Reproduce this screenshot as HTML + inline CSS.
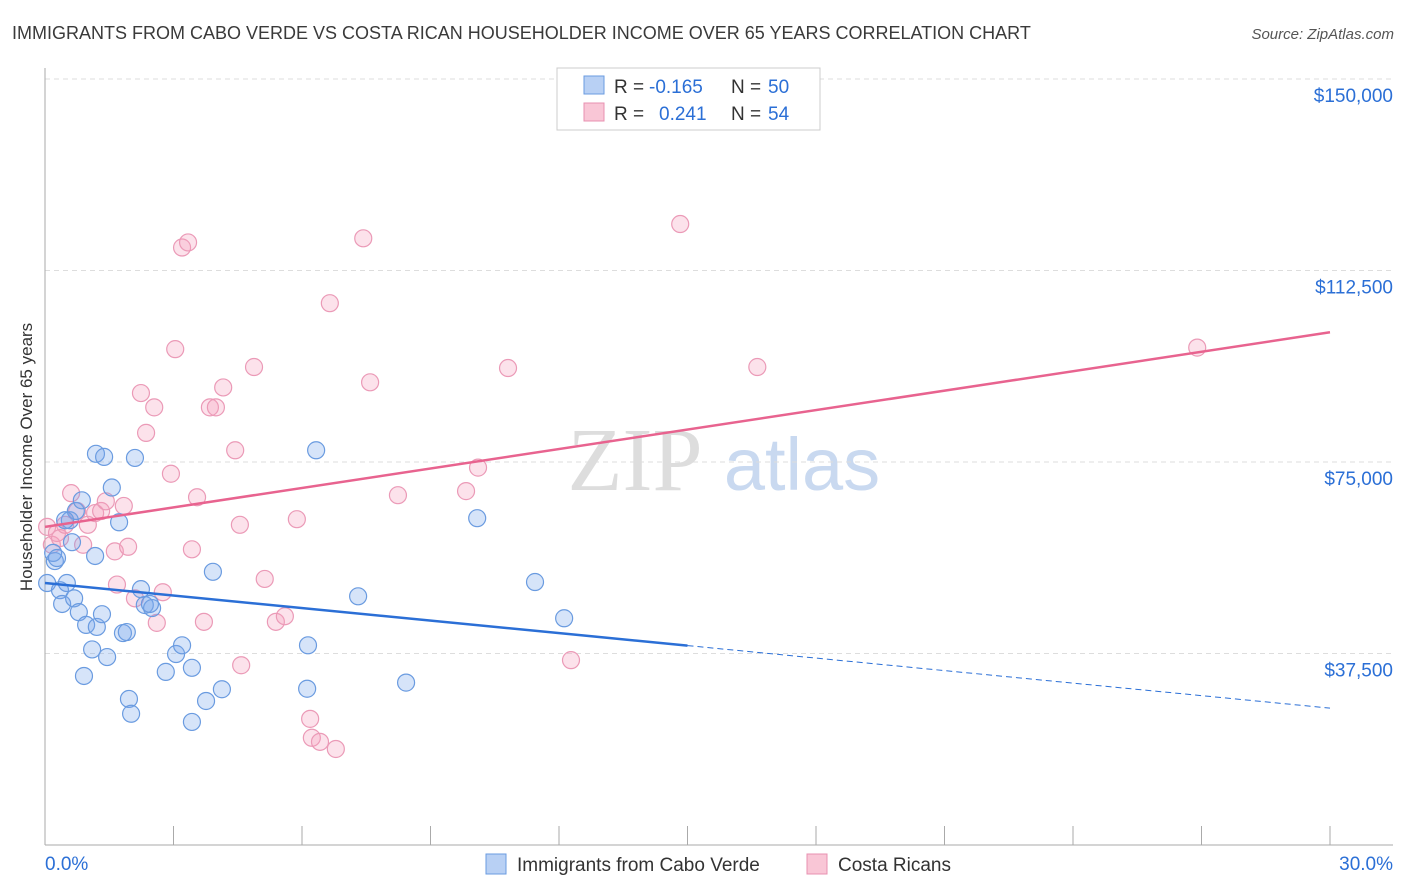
<!DOCTYPE html>
<html><head><meta charset="utf-8"><style>
body{margin:0;background:#fff;font-family:"Liberation Sans",sans-serif;}
svg{display:block}
</style></head><body>
<svg id="chart" width="1406" height="892">
<text x="12" y="39" font-size="18" fill="#3a3a3a">IMMIGRANTS FROM CABO VERDE VS COSTA RICAN HOUSEHOLDER INCOME OVER 65 YEARS CORRELATION CHART</text>
<text x="1394" y="39" font-size="15" fill="#555" text-anchor="end" font-style="italic">Source: ZipAtlas.com</text>
<text x="32" y="457" font-size="17" fill="#333" text-anchor="middle" transform="rotate(-90 32 457)">Householder Income Over 65 years</text>
<g><text x="635" y="490" font-size="90" font-family="Liberation Serif,serif" fill="#ddd" text-anchor="middle">ZIP</text><text x="802" y="490" font-size="74" fill="#c9d9f0" text-anchor="middle">atlas</text></g>
<g id="grid"></g><g id="axes"></g><g id="pts"></g><g id="lines"></g>
<g>
<rect x="557" y="68" width="263" height="62" fill="#fff" stroke="#ccc"/>
<rect x="584" y="76" width="20" height="18" fill="#b8d0f4" stroke="#6a9be0"/>
<rect x="584" y="103" width="20" height="18" fill="#f9c6d6" stroke="#e890b0"/>
<text x="614" y="93" font-size="19" fill="#333">R =</text>
<text x="649" y="93" font-size="19" fill="#2b6fd6">-0.165</text>
<text x="731" y="93" font-size="19" fill="#333">N =</text>
<text x="768" y="93" font-size="19" fill="#2b6fd6">50</text>
<text x="614" y="120" font-size="19" fill="#333">R =</text>
<text x="659" y="120" font-size="19" fill="#2b6fd6">0.241</text>
<text x="731" y="120" font-size="19" fill="#333">N =</text>
<text x="768" y="120" font-size="19" fill="#2b6fd6">54</text>
</g>
<g>
<rect x="486" y="854" width="20" height="20" fill="#b8d0f4" stroke="#6a9be0"/>
<text x="517" y="871" font-size="19" fill="#333">Immigrants from Cabo Verde</text>
<rect x="807" y="854" width="20" height="20" fill="#f9c6d6" stroke="#e890b0"/>
<text x="838" y="871" font-size="19" fill="#333">Costa Ricans</text>
</g>
<text x="45" y="870" font-size="19" fill="#2b6fd6">0.0%</text>
<text x="1393" y="870" font-size="19" fill="#2b6fd6" text-anchor="end">30.0%</text>
</svg>
<script>
const yTicks=[37500,75000,112500,150000];
const yTickLabels=["$37,500","$75,000","$112,500","$150,000"];
const blueX=[0.05,0.23,0.19,0.28,0.35,0.40,0.51,0.58,0.63,0.68,0.72,0.79,0.86,0.91,0.96,1.10,1.17,1.21,1.19,1.33,1.38,1.45,1.56,1.73,1.82,1.91,1.96,2.01,2.10,2.24,2.33,2.50,2.82,3.06,3.20,3.43,3.43,3.76,3.92,4.13,6.14,6.12,6.33,7.31,8.43,10.09,11.44,12.12,0.47,2.45];
const blueY=[51300,55600,57200,56200,49900,47200,51300,63600,59300,48300,65400,45600,67500,33100,43100,38300,56600,42700,76600,45200,76000,36800,70000,63200,41500,41700,28600,25700,75800,50100,47000,46400,33900,37400,39100,34700,24100,28200,53500,30500,39100,30600,77300,48700,31800,64000,51500,44400,63600,47200];
const pinkX=[0.05,0.16,0.28,0.35,0.47,0.61,0.75,0.89,1.00,1.17,1.31,1.42,1.63,1.68,1.84,1.94,2.10,2.24,2.36,2.55,2.61,2.75,2.94,3.04,3.20,3.34,3.43,3.55,3.71,3.85,3.99,4.16,4.44,4.55,4.58,4.88,5.13,5.39,5.60,5.88,6.19,6.23,6.42,6.65,6.79,7.43,7.59,8.24,9.83,10.11,10.81,12.28,14.83,16.63,26.90];
const pinkY=[62300,58800,61100,60100,62700,68900,65400,58800,62700,65000,65400,67300,57500,51000,66400,58400,48300,88500,80700,85700,43500,49500,72700,97100,117000,118000,57900,68100,43700,85700,85700,89600,77300,62700,35200,93600,52100,43700,44800,63800,24700,21000,20200,106100,18800,118800,90600,68500,69300,73900,93400,36200,121600,93600,97400];
const blueTrend=[51300,26800];
const pinkTrend=[62300,100400];
const X=v=>45+v/30*1285, Y=v=>845-v/37500*191.5;
const ns="http://www.w3.org/2000/svg";
function mk(tag,attrs,parent){const e=document.createElementNS(ns,tag);for(const k in attrs)e.setAttribute(k,attrs[k]);document.getElementById(parent).appendChild(e);return e;}
yTicks.forEach((t,i)=>{
 const g=mk('line',{x1:45,x2:1393,y1:Y(t),y2:Y(t),stroke:'#ddd','stroke-dasharray':'5,4'},'grid');
 
 
 const l=mk('text',{x:1393,y:Y(t)+23,'font-size':19,fill:'#2b6fd6','text-anchor':'end'},'grid');
 l.textContent=yTickLabels[i];
 
 
});
const ax=mk('line',{x1:45,x2:1393,y1:845,y2:845,stroke:'#aaa'},'axes');


const ay=mk('line',{x1:45,x2:45,y1:68,y2:845,stroke:'#aaa'},'axes');


for(let i=0;i<=10;i++){const t=mk('line',{x1:X(i*3),x2:X(i*3),y1:826,y2:845,stroke:'#aaa'},'axes');
 
 }
function pts(xs,ys,fill,stroke,name){xs.forEach((x,i)=>{const c=mk('circle',{cx:X(x),cy:Y(ys[i]),r:8.5,fill:fill,stroke:stroke,'stroke-width':1.2},'pts');
 
 });}
pts(pinkX,pinkY,'rgba(244,160,188,0.3)','#eb9ab7','point-costa-rican');
pts(blueX,blueY,'rgba(120,165,235,0.3)','#6a9be0','point-cabo-verde');
const bAt=x=>blueTrend[0]+(blueTrend[1]-blueTrend[0])*x/30;
const pAt=x=>pinkTrend[0]+(pinkTrend[1]-pinkTrend[0])*x/30;
const bl=mk('line',{x1:X(0),y1:Y(bAt(0)),x2:X(15),y2:Y(bAt(15)),stroke:'#2b6fd6','stroke-width':2.5},'lines');


const bd=mk('line',{x1:X(15),y1:Y(bAt(15)),x2:X(30),y2:Y(bAt(30)),stroke:'#2b6fd6','stroke-width':1,'stroke-dasharray':'6,4'},'lines');


const pl=mk('line',{x1:X(0),y1:Y(pAt(0)),x2:X(30),y2:Y(pAt(30)),stroke:'#e8638f','stroke-width':2.5},'lines');


</script>
</body></html>
